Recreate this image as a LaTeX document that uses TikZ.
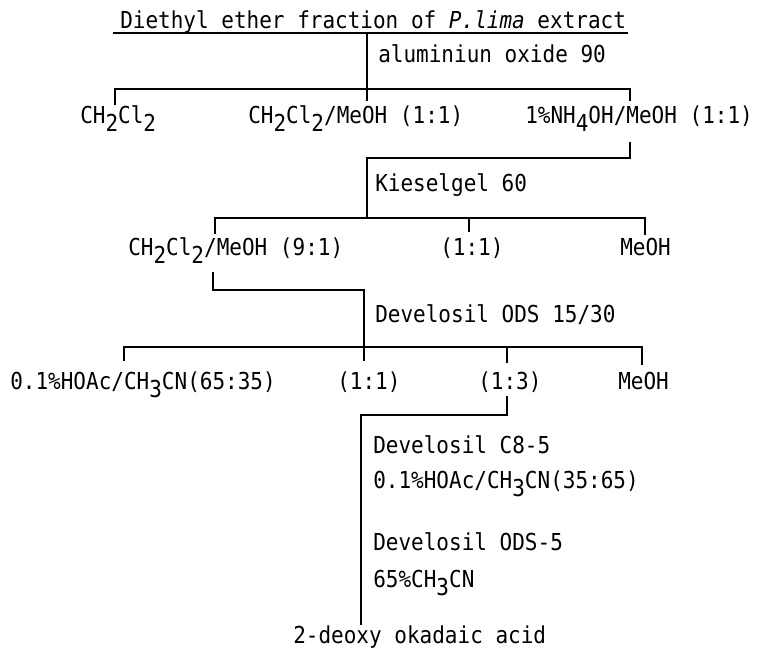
\documentclass[tikz,border=0pt]{standalone}
\usepackage{fontspec}
\setmainfont[FakeStretch=0.9]{DejaVu Sans Mono}
\newcommand\sbs[1]{\raisebox{-0.36em}{#1}}
\begin{document}
\begin{tikzpicture}[x=0.75pt,y=-0.75pt,
  lbl/.style={inner sep=0pt, anchor=base west, font=\fontsize{17.5}{20}\selectfont},
  ln/.style={line width=1.9pt, line join=miter}]
\useasboundingbox (0,0) rectangle (764,651);
% texts
\node[lbl] (title) at (120,28) {Diethyl ether fraction of \textit{P.lima} extract};
\node[lbl] (alu) at (378,62) {aluminiun oxide 90};
\node[lbl] (r1a) at (80,123) {CH\sbs{2}Cl\sbs{2}};
\node[lbl] (r1b) at (248,123) {CH\sbs{2}Cl\sbs{2}/MeOH (1:1)};
\node[lbl] (r1c) at (525,123) {1\%NH\sbs{4}OH/MeOH (1:1)};
\node[lbl] (kie) at (375,191) {Kieselgel 60};
\node[lbl] (r2a) at (128,255) {CH\sbs{2}Cl\sbs{2}/MeOH (9:1)};
\node[lbl] (r2b) at (440,255) {(1:1)};
\node[lbl] (r2c) at (620,255) {MeOH};
\node[lbl] (ods) at (375,322) {Develosil ODS 15/30};
\node[lbl] (r3a) at (10,389) {0.1\%HOAc/CH\sbs{3}CN(65:35)};
\node[lbl] (r3b) at (337,389) {(1:1)};
\node[lbl] (r3c) at (478,389) {(1:3)};
\node[lbl] (r3d) at (618,389) {MeOH};
\node[lbl] (c8) at (373,453) {Develosil C8-5};
\node[lbl] (c8s) at (373,488) {0.1\%HOAc/CH\sbs{3}CN(35:65)};
\node[lbl] (o5) at (373,550) {Develosil ODS-5};
\node[lbl] (o5s) at (373,587) {65\%CH\sbs{3}CN};
\node[lbl] (prod) at (293,643) {2-deoxy okadaic acid};
% junction coordinates
\coordinate (u0) at (113,33);
\coordinate (u1) at (628,33);
\coordinate (s0) at (367,33);
\coordinate (s1) at (367,89);
\coordinate (h1l) at (115,89);
\coordinate (h1r) at (630,89);
\coordinate (t1a) at (115,105);
\coordinate (t1b) at (367,101);
\coordinate (t1c) at (630,101);
\coordinate (b1) at (630,142);
\coordinate (b1c) at (630,158);
\coordinate (b1l) at (367,158);
\coordinate (h2m) at (367,218);
\coordinate (h2l) at (215,218);
\coordinate (h2r) at (645,218);
\coordinate (t2a) at (215,234);
\coordinate (t2b) at (469,232);
\coordinate (t2c) at (645,235);
\coordinate (b2) at (213,272);
\coordinate (b2c) at (213,290);
\coordinate (b2r) at (364,290);
\coordinate (h3m) at (364,347);
\coordinate (h3l) at (124,347);
\coordinate (h3r) at (642,347);
\coordinate (t3a) at (124,361);
\coordinate (t3b) at (364,361);
\coordinate (t3c) at (507,363);
\coordinate (t3d) at (642,365);
\coordinate (b3) at (507,396);
\coordinate (b3c) at (507,415);
\coordinate (b3l) at (361,415);
\coordinate (e3) at (361,625);
% connectors
\draw[ln] (u0) -- (u1);
\draw[ln] (s0) -- (s1);
\draw[ln] (t1a) -- (h1l) -- (h1r) -- (t1c);
\draw[ln] (s1) -- (t1b);
\draw[ln] (b1) -- (b1c) -- (b1l) -- (h2m);
\draw[ln] (t2a) -- (h2l) -- (h2r) -- (t2c);
\draw[ln] (t2b |- h2l) -- (t2b);
\draw[ln] (b2) -- (b2c) -- (b2r) -- (h3m);
\draw[ln] (t3a) -- (h3l) -- (h3r) -- (t3d);
\draw[ln] (h3m) -- (t3b);
\draw[ln] (t3c |- h3l) -- (t3c);
\draw[ln] (b3) -- (b3c) -- (b3l) -- (e3);
\end{tikzpicture}
\end{document}
